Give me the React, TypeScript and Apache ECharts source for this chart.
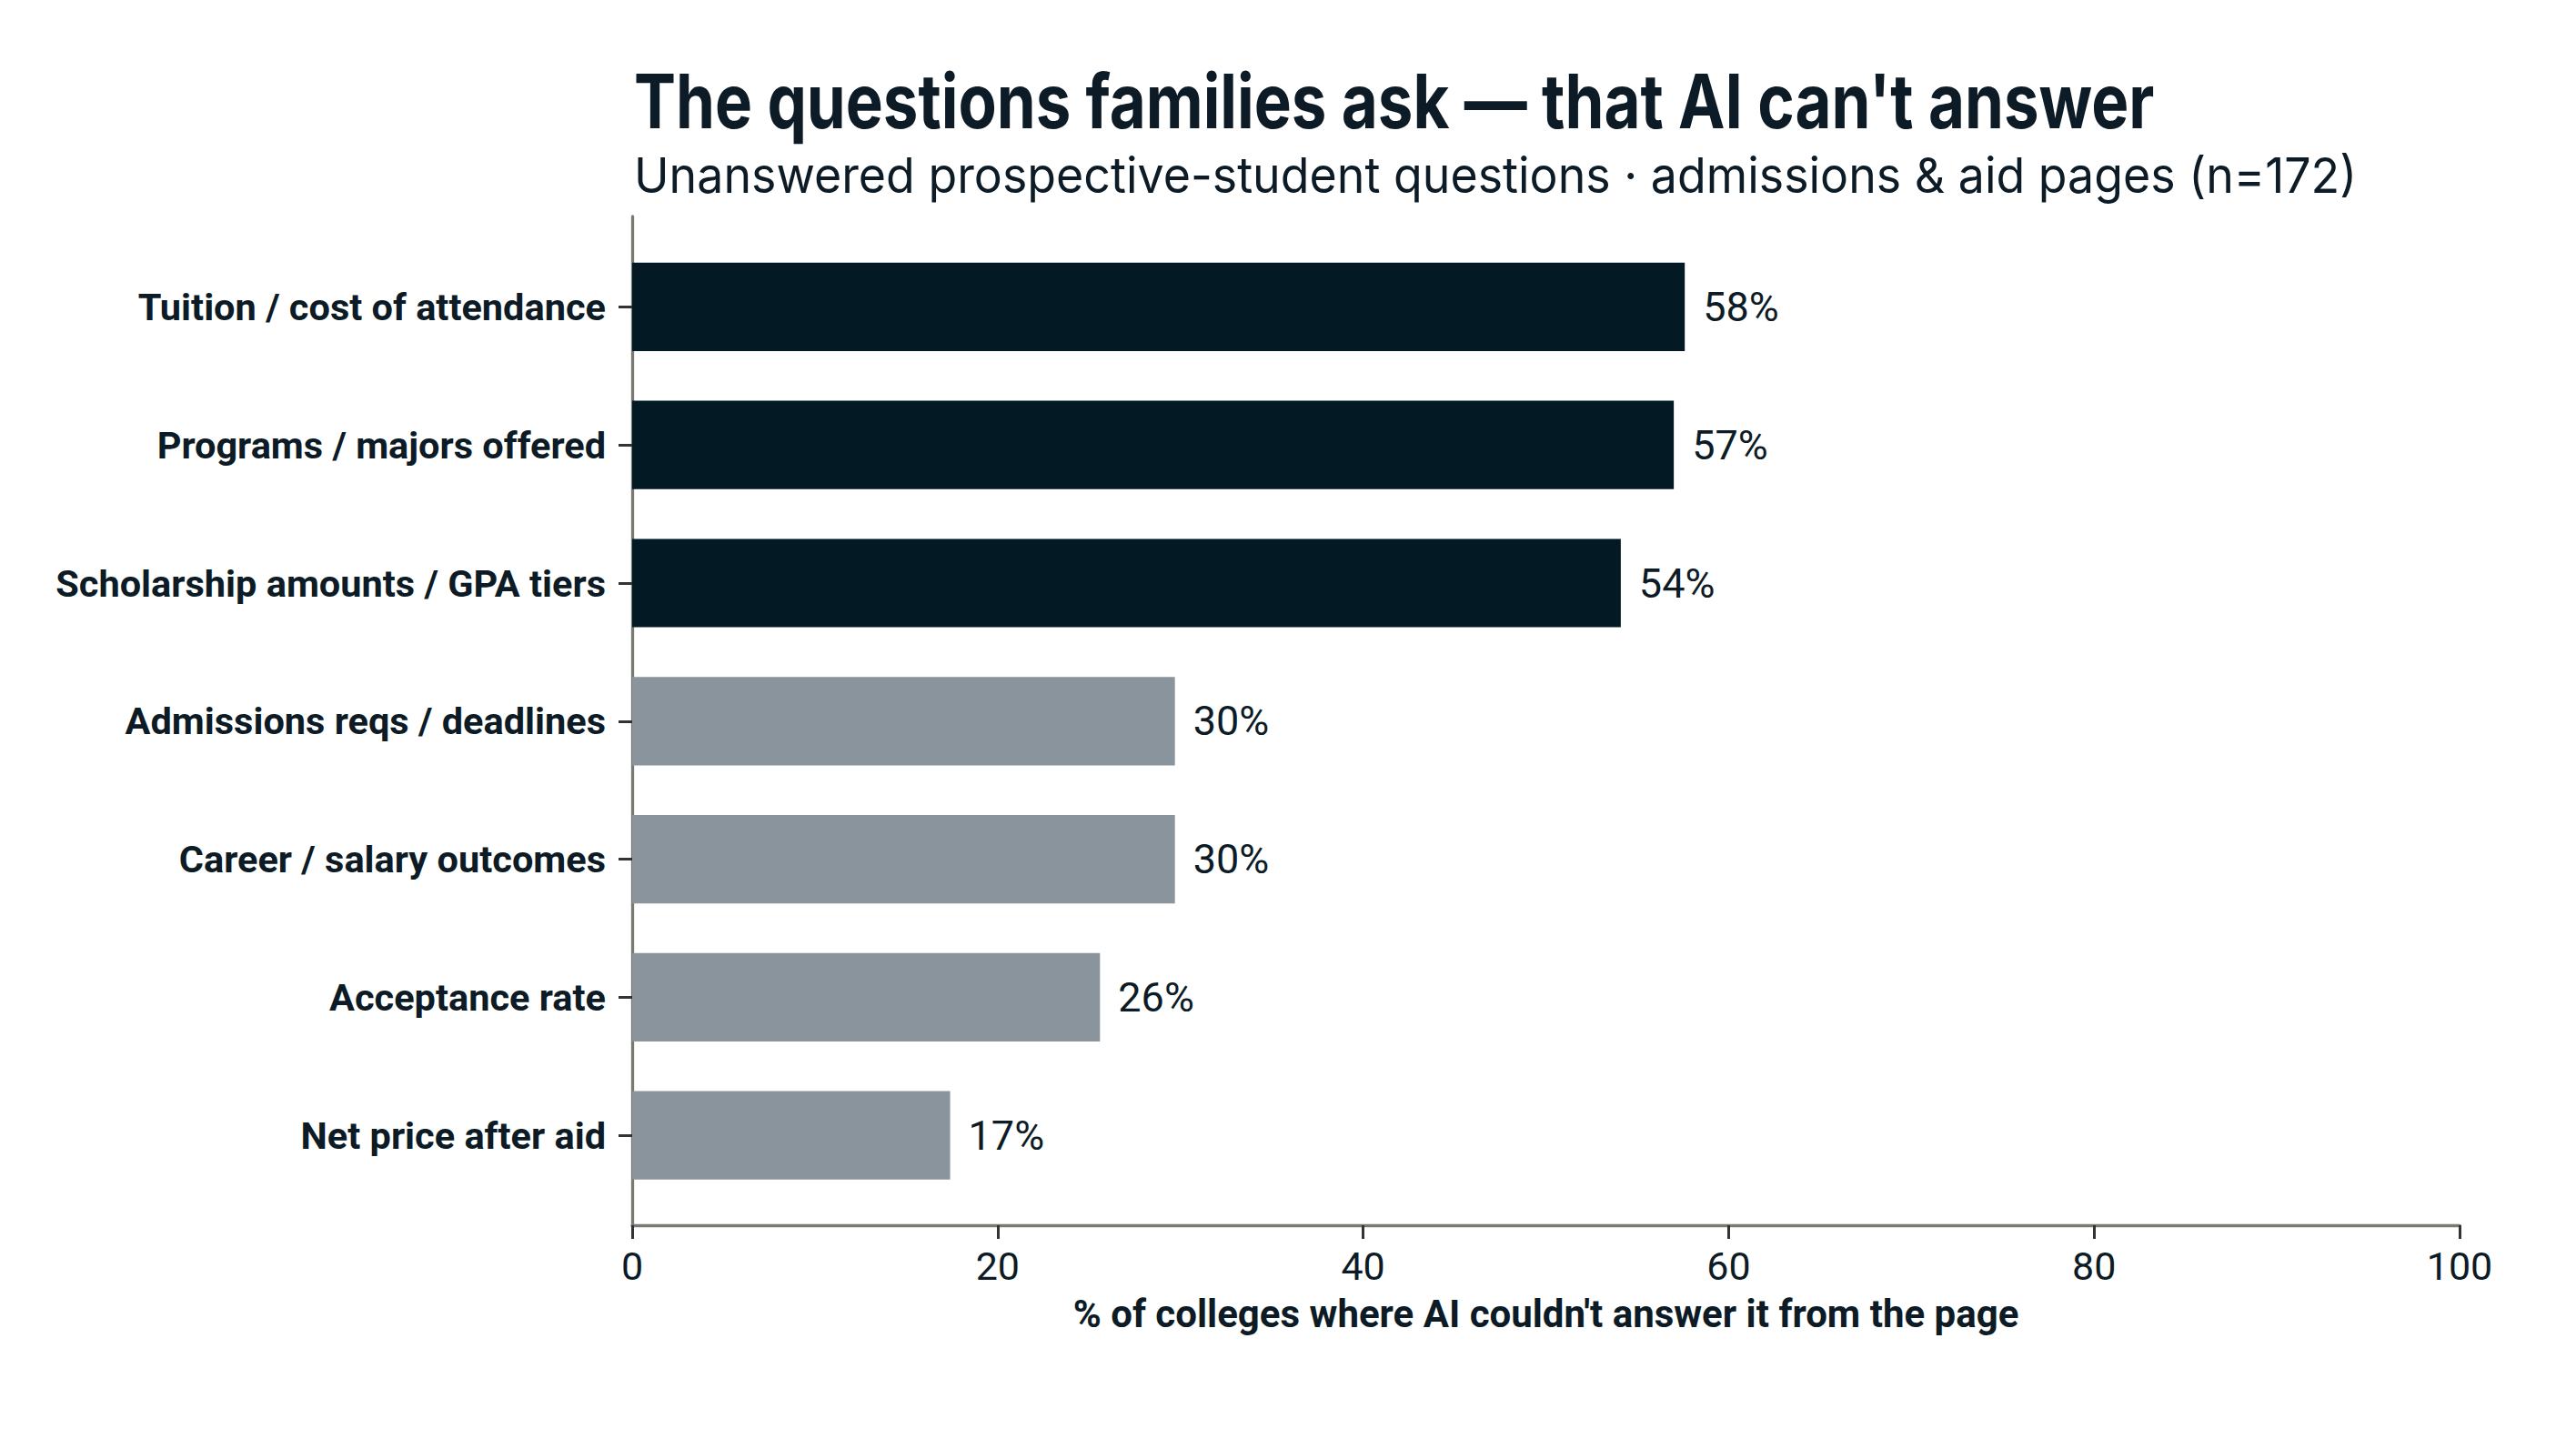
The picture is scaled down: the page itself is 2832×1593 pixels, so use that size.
import React, { useEffect, useRef } from "react";
import * as echarts from "echarts";

const categories = [
  "Tuition / cost of attendance",
  "Programs / majors offered",
  "Scholarship amounts / GPA tiers",
  "Admissions reqs / deadlines",
  "Career / salary outcomes",
  "Acceptance rate",
  "Net price after aid",
];
const values = [57.6, 57.0, 54.1, 29.7, 29.7, 25.6, 17.4];
const highlighted = [true, true, true, false, false, false, false];
const xMin = 0;
const xMax = 100;
const xInterval = 20;

const titleText = "The questions families ask \u2014 that AI can't answer";
const subtitleText =
  "Unanswered prospective-student questions \u00b7 admissions & aid pages (n=172)";
const xAxisName = "% of colleges where AI couldn't answer it from the page";

const W = 2832;
const H = 1593;
const DARK = "#031a24";
const GRAY = "#8a949d";
const TEXT = "#0c1b25";
const SPINE = "#7a7a74";
const BOLDF = "Roboto, 'Noto Sans', sans-serif";
const REG = "Roboto, 'Noto Sans', sans-serif";

function measure(text: string, font: string): number {
  const c = document.createElement("canvas");
  const ctx = c.getContext("2d");
  if (!ctx) return 1;
  ctx.font = font;
  return ctx.measureText(text).width || 1;
}

export default function App() {
  const ref = useRef<HTMLDivElement>(null);
  useEffect(() => {
    if (!ref.current) return;
    const chart = echarts.init(ref.current, undefined, { renderer: "svg", width: W, height: H });

    const left = 695;
    const right = W - 2704;
    const axisTop = 238;
    const axisBottom = 1347;
    const bandTop = 261.5;
    const bandH = 1062.6;

    const titleW = measure(titleText, "bold 83px Inter");
    const subW = measure(subtitleText, "54px Inter");

    chart.setOption({
      animation: false,
      backgroundColor: "#ffffff",
      graphic: [
        {
          type: "text",
          x: 697,
          y: 111,
          scaleX: 1672 / titleW,
          style: {
            text: titleText,
            fontSize: 83,
            fontWeight: "bold",
            fontFamily: "Inter",
            fill: TEXT,
            verticalAlign: "middle",
          },
        },
        {
          type: "text",
          x: 697,
          y: 193,
          scaleX: 1895 / subW,
          style: {
            text: subtitleText,
            fontSize: 54,
            fontFamily: "Inter",
            fill: TEXT,
            verticalAlign: "middle",
          },
        },
      ],
      grid: [
        { left, right, top: bandTop, height: bandH, containLabel: false },
        { left, right, top: axisTop, height: axisBottom - axisTop, containLabel: false },
      ],
      xAxis: [
        {
          gridIndex: 0,
          type: "value",
          min: xMin,
          max: xMax,
          show: false,
        },
        {
          gridIndex: 1,
          type: "value",
          min: xMin,
          max: xMax,
          interval: xInterval,
          position: "bottom",
          axisLine: { show: true, lineStyle: { color: SPINE, width: 3.3 } },
          axisTick: { show: true, length: 15, lineStyle: { color: "#333", width: 3 } },
          axisLabel: { fontSize: 43, color: TEXT, margin: 23, fontFamily: REG },
          splitLine: { show: false },
          name: xAxisName,
          nameLocation: "middle",
          nameGap: 76,
          nameTextStyle: { fontSize: 42, fontWeight: "bold", color: TEXT, fontFamily: BOLDF },
        },
      ],
      yAxis: [
        {
          gridIndex: 0,
          type: "category",
          data: categories,
          inverse: true,
          axisLine: { show: false },
          axisTick: { show: true, alignWithLabel: true, length: 15, lineStyle: { color: "#333", width: 3 } },
          axisLabel: { fontSize: 41.5, fontWeight: "bold", color: TEXT, margin: 29, fontFamily: BOLDF },
          splitLine: { show: false },
        },
        {
          gridIndex: 1,
          type: "value",
          min: 0,
          max: 1,
          axisLine: { show: true, lineStyle: { color: SPINE, width: 3.3 } },
          axisTick: { show: false },
          axisLabel: { show: false },
          splitLine: { show: false },
        },
      ],
      series: [
        {
          type: "bar",
          xAxisIndex: 0,
          yAxisIndex: 0,
          barWidth: "64%",
          data: values.map((v, i) => ({
            value: v,
            itemStyle: { color: highlighted[i] ? DARK : GRAY },
          })),
          label: {
            show: true,
            position: "right",
            distance: 20,
            formatter: (p: any) => Math.round(p.value) + "%",
            fontSize: 45,
            color: TEXT,
            fontFamily: REG,
          },
        },
      ],
    });
    return () => chart.dispose();
  }, []);
  return (
    <div
      ref={ref}
      style={{ position: "fixed", left: 0, top: 0, width: W, height: H, background: "#fff" }}
    />
  );
}
